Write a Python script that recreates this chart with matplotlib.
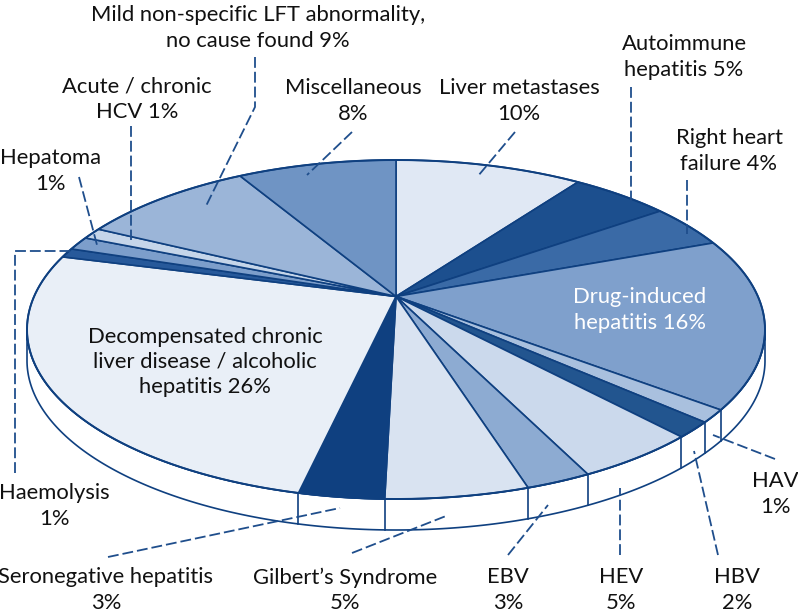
import numpy as np
import matplotlib
matplotlib.use("Agg")
import matplotlib.pyplot as plt
from matplotlib.patches import Polygon

plt.rcParams['font.family'] = ['Lato', 'DejaVu Sans']

# parts of the pie, clockwise from 12 o'clock
categories = ["Liver metastases", "Autoimmune hepatitis", "Right heart failure",
              "Drug-induced hepatitis", "HAV", "HBV", "HEV", "EBV",
              "Gilbert's Syndrome", "Seronegative hepatitis",
              "Decompensated chronic liver disease", "Haemolysis", "Hepatoma",
              "Acute / chronic HCV", "Mild non-specific LFT abnormality",
              "Miscellaneous"]
# sizes as drawn in the picture (the printed labels are rounded)
values = [9.9, 5.2, 4.2, 16.2, 1.2, 1.5, 4.6, 2.4, 5.2, 3.1, 25.6, 0.9, 1.3, 1.1, 9.2, 8.4]
colors = ["#e0e8f4", "#1c4f8e", "#3a6aa6", "#7fa0cc", "#a9c0de", "#22558f",
          "#cbd9ec", "#8dabd2", "#d9e3f1", "#0f4080", "#e9eff7", "#27599a",
          "#7c9ecb", "#c5d5e9", "#9bb5d8", "#6f94c4"]

labels = ["Mild non-specific LFT abnormality,\nno cause found 9%",
          "Acute / chronic\nHCV 1%", "Miscellaneous\n8%", "Liver metastases\n10%",
          "Autoimmune\nhepatitis 5%", "Right heart\nfailure 4%", "Hepatoma\n1%",
          "Decompensated chronic\nliver disease / alcoholic\nhepatitis 26%",
          "Haemolysis\n1%", "Seronegative hepatitis\n3%", "Gilbert\u2019s Syndrome\n5%",
          "EBV\n3%", "HEV\n5%", "HBV\n2%", "HAV\n1%"]
label_x = [258, 137, 353, 519, 684, 729, 50, 205, 54, 106, 345, 508, 621, 737, 775]
label_y = [28, 99, 101, 101, 57, 151, 171, 362, 506, 590, 590, 590, 590, 590, 494]

leaders = [[(515, 132), (478, 176)], [(631, 87), (631, 205)], [(687, 180), (687, 234)],
           [(352, 132), (307, 175)], [(255, 57), (255, 107), (206, 206)],
           [(131, 126), (131, 240)], [(79, 177), (97, 245)],
           [(15, 473), (15, 251), (72, 251)], [(108, 557), (340, 508)],
           [(352, 553), (446, 516)], [(508, 555), (548, 505)], [(620, 555), (620, 488)],
           [(718, 555), (694, 451)], [(775, 459), (713, 435)]]

navy = "#0f4080"
cx, cy = 396, 329.5
rx, ry = 369, 169.5
k = 0.195       # perspective, moves the hub up from the ellipse centre
depth = 31


# tilted circle : angle measured clockwise from the top
def rim(t):
    u, v = np.sin(t), np.cos(t)
    d = 1 + k * v
    return cx + rx * u * np.sqrt(1 - k**2) / d, cy - ry * (v + k) / d


fig = plt.figure(figsize=(7.98, 6.16), dpi=100)
ax = fig.add_axes([0, 0, 1, 1])
ax.set_xlim(0, 798)
ax.set_ylim(616, 0)
ax.axis("off")

edges = 2 * np.pi * np.cumsum([0] + values) / sum(values)
hub = cx, cy - ry * k

# side wall
tt = np.linspace(0, 2 * np.pi, 721)
xs, ys = rim(tt)
low = ys >= cy
order = np.argsort(xs[low])
xl, yl = xs[low][order], ys[low][order]
wall = np.column_stack([np.r_[xl, xl[::-1]], np.r_[yl, yl[::-1] + depth]])
ax.add_patch(Polygon(wall, closed=True, fc="white", ec=navy, lw=1.2, zorder=1))
for e in edges[:-1]:
    x, y = rim(e)
    if y >= cy:
        ax.plot([x, x], [y, y + depth], color=navy, lw=1.2, zorder=1)

# top of the pie
for i in range(len(values)):
    t = np.linspace(edges[i], edges[i + 1], 80)
    x, y = rim(t)
    pts = np.column_stack([np.r_[hub[0], x], np.r_[hub[1], y]])
    ax.add_patch(Polygon(pts, closed=True, fc=colors[i], ec=navy, lw=1.2, zorder=2))
ax.plot(xs, ys, color=navy, lw=1.4, zorder=2)

for line in leaders:
    px, py = zip(*line)
    ax.plot(px, py, color="#1f4e8c", lw=1.3, dashes=(6, 2.2), zorder=3)

for s, x, y in zip(labels, label_x, label_y):
    ax.text(x, y, s, ha="center", va="center", fontsize=15.8, color="#111111",
            linespacing=1.32, zorder=4)
ax.text(640, 310, "Drug-induced\nhepatitis 16%", ha="center", va="center",
        fontsize=15.8, color="white", linespacing=1.32, zorder=4)

fig.savefig("out.png", dpi=100)
